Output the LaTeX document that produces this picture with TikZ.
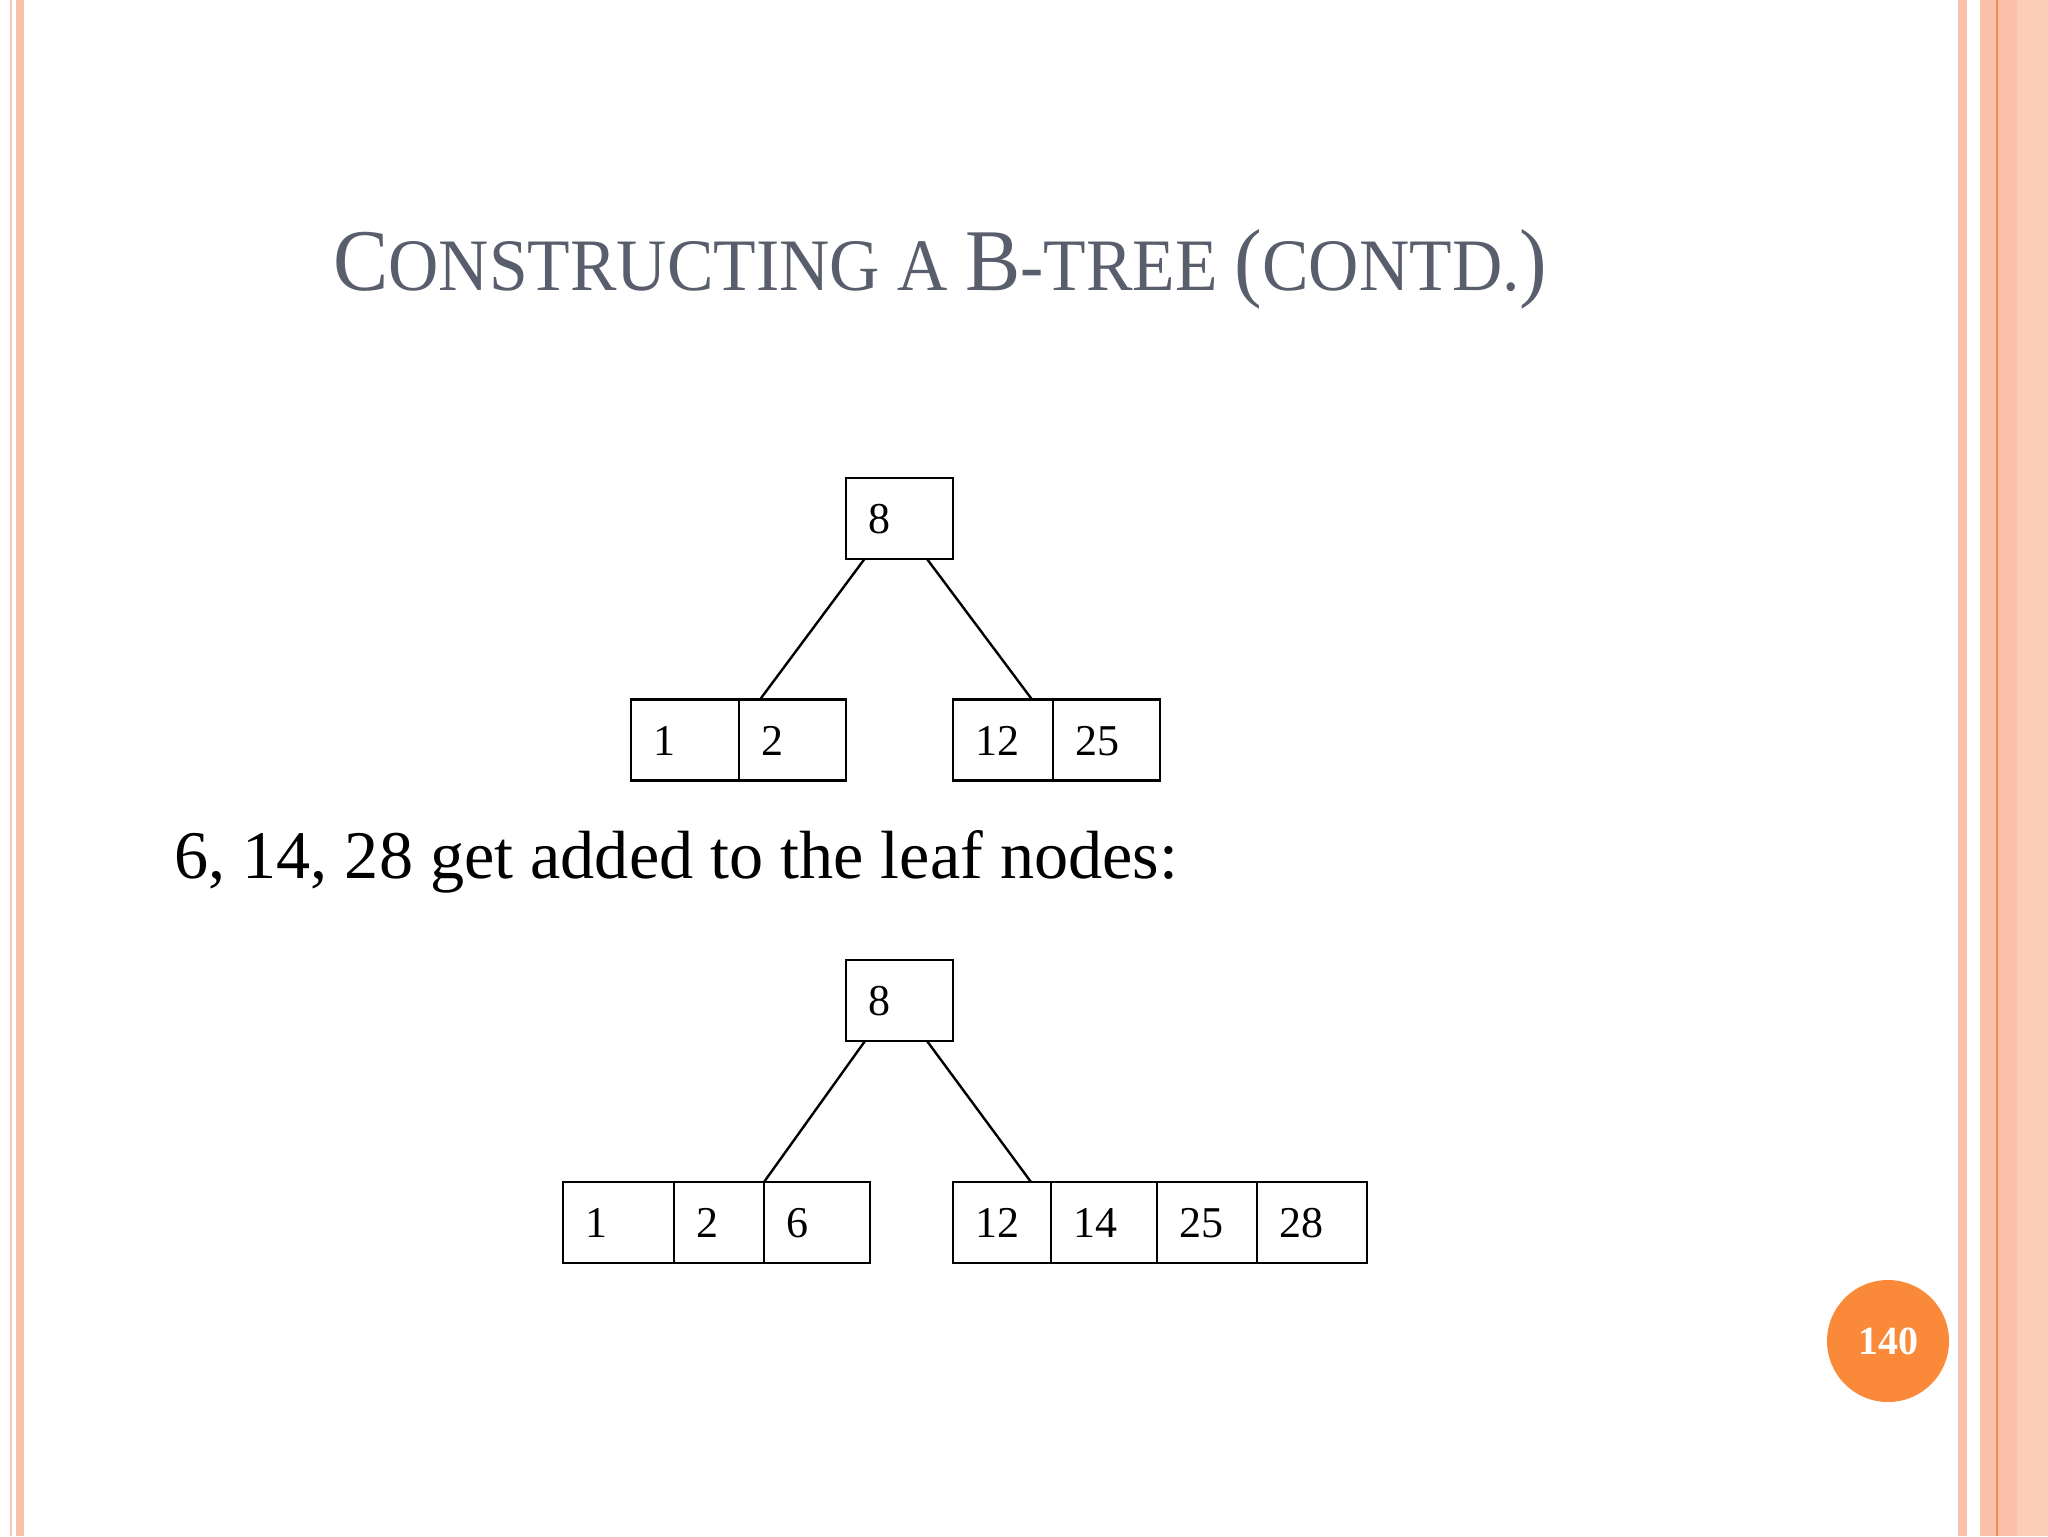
\documentclass[tikz,border=0pt]{standalone}
\usepackage{fontspec}
\setmainfont{Liberation Serif}
\usepackage{graphicx}

\definecolor{titlegray}{RGB}{89,94,108}
\definecolor{borderpink}{RGB}{248,200,186}
\definecolor{bordersalmon}{RGB}{251,192,170}
\definecolor{borderlight}{RGB}{252,205,184}
\definecolor{borderorange}{RGB}{244,137,75}
\definecolor{pageorange}{RGB}{250,138,58}

\newcommand{\sctext}[1]{{\fontsize{37}{40}\selectfont #1}}

\tikzset{
  cell/.style={draw, line width=1.1pt, anchor=west, outer sep=0pt,
    minimum height=40.5pt, inner xsep=11pt, inner ysep=0pt,
    text width=#1, align=left, text height=15pt, text depth=0pt,
    font=\fontsize{22}{24}\selectfont},
  link/.style={line width=1.2pt},
}

\begin{document}
\begin{tikzpicture}[x=0.5pt,y=-0.5pt]
    % Page and side borders
    \useasboundingbox[fill=white] (0,0) rectangle (2048,1536);
    \fill[borderpink] (10,0) rectangle (12,1536);
    \fill[bordersalmon] (16,0) rectangle (24,1536);
    \fill[bordersalmon] (1958,0) rectangle (1967,1536);
    \fill[bordersalmon] (1980,0) rectangle (2017,1536);
    \fill[borderlight] (2017,0) rectangle (2048,1536);
    \fill[borderorange] (1996,0) rectangle (1998,1536);

    % Title
    \node[anchor=base west, inner sep=0pt, text=titlegray, font=\fontsize{44}{48}\selectfont] (title) at (333,290)
        {\scalebox{0.941}[1]{C\sctext{ONSTRUCTING A }B\sctext{-TREE }(\sctext{CONTD.})}};

    % Draw nodes (before)
    \node[cell=31.5pt] (root1) at (846,518.5) {8};
    \node[cell=32pt] (leaf1a) at (631,740) {1};
    \node[cell=31.5pt] (leaf1b) at (739,740) {2};
    \node[cell=28pt] (leaf1c) at (953,740) {12};
    \node[cell=31.5pt] (leaf1d) at (1053,740) {25};

    % Draw connections (before)
    \draw[link] ([xshift=9.25pt]root1.south west) -- ([xshift=10.5pt]leaf1b.north west);
    \draw[link] ([xshift=-13pt]root1.south east) -- ([xshift=-10.5pt]leaf1c.north east);

    % Text
    \node[anchor=base west, inner sep=0pt, font=\fontsize{34.1}{40}\selectfont] (caption) at (174,878)
        {6, 14, 28 get added to the leaf nodes:};

    % Draw nodes (after)
    \node[cell=31.5pt] (root2) at (846,1000.5) {8};
    \node[cell=33.5pt] (leaf2a) at (563,1222.5) {1};
    \node[cell=23pt] (leaf2b) at (674,1222.5) {2};
    \node[cell=31pt] (leaf2c) at (764,1222.5) {6};
    \node[cell=27pt] (leaf2d) at (953,1222.5) {12};
    \node[cell=31pt] (leaf2e) at (1051,1222.5) {14};
    \node[cell=28pt] (leaf2f) at (1157,1222.5) {25};
    \node[cell=33pt] (leaf2g) at (1257,1222.5) {28};

    % Draw connections (after)
    \draw[link] ([xshift=9.5pt]root2.south west) -- (leaf2c.north west);
    \draw[link] ([xshift=-13pt]root2.south east) -- ([xshift=-10pt]leaf2d.north east);

    % Page number
    \node[circle, fill=pageorange, minimum size=61pt, inner sep=0pt, text=white,
        font=\bfseries\fontsize{20}{22}\selectfont] (pagenum) at (1888,1341) {140};
\end{tikzpicture}
\end{document}
